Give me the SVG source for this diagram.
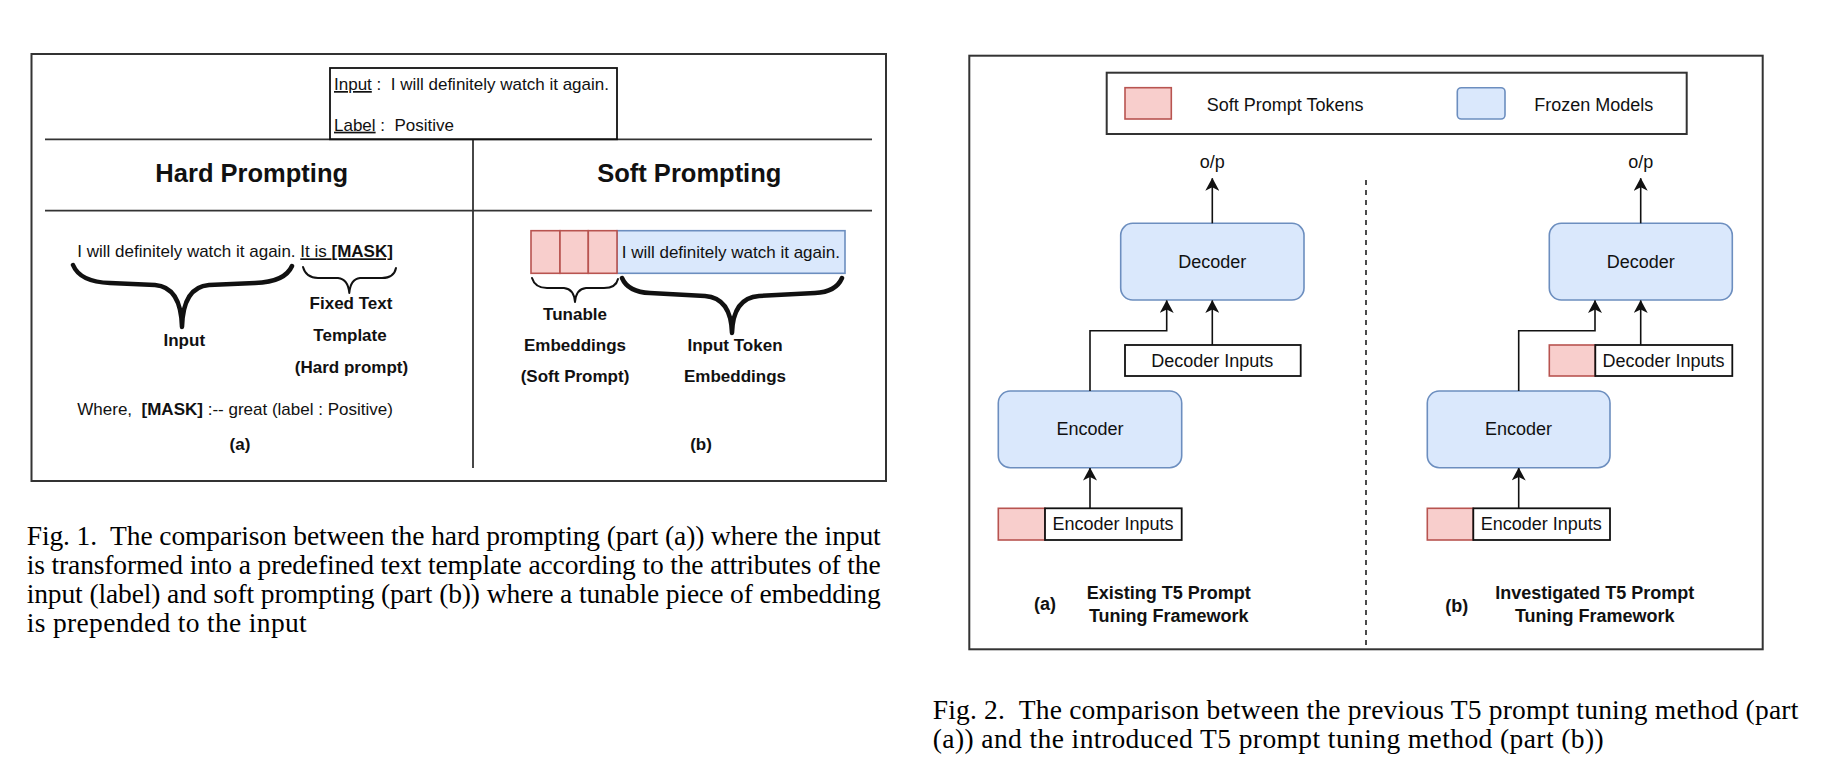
<svg xmlns="http://www.w3.org/2000/svg" width="1826" height="778" viewBox="0 0 1826 778">
<style>
text{font-family:"Liberation Sans",Arial,sans-serif;fill:#111;white-space:pre}
.b{font-weight:bold}
.f17{font-size:17px}
.f18{font-size:18px}
.h{font-size:25.5px;font-weight:bold}
.cap{font-family:"Liberation Serif","Times New Roman",serif;font-size:27.5px;fill:#000}
.m{text-anchor:middle}
.frame{fill:none;stroke:#333;stroke-width:2}
.line{fill:none;stroke:#333;stroke-width:1.8}
.red{fill:#f8cecc;stroke:#b85450;stroke-width:1.6}
.blue{fill:#dae8fc;stroke:#6c8ebf;stroke-width:1.6}
.wbox{fill:#fff;stroke:#111;stroke-width:1.8}
.conn{fill:none;stroke:#111;stroke-width:1.6}
.brace{fill:none;stroke:#111;stroke-linecap:round;stroke-linejoin:round}
.u{text-decoration:underline}
</style>
<defs>
<marker id="arr" viewBox="0 0 13 14" refX="12.5" refY="7" markerWidth="13" markerHeight="14" markerUnits="userSpaceOnUse" orient="auto"><path d="M0,0 L13,7 L0,14 L3.5,7 z" fill="#111"/></marker>
</defs>
<rect width="1826" height="778" fill="#fff"/>

<!-- ===== Figure 1 ===== -->
<g id="fig1-frame">
<rect class="frame" x="31.5" y="54" width="854.5" height="427"/>
<line class="line" x1="45" y1="139.3" x2="872" y2="139.3"/>
<line class="line" x1="45" y1="210.7" x2="872" y2="210.7"/>
<line class="line" x1="473" y1="139.3" x2="473" y2="468"/>
</g>
<g id="fig1-example">
<rect fill="none" stroke="#111" stroke-width="1.8" x="330" y="68" width="287" height="71.3"/>
<text class="f17" x="334" y="90"><tspan class="u">Input</tspan> :  I will definitely watch it again.</text>
<text class="f17" x="334" y="130.7"><tspan class="u">Label</tspan> :  Positive</text>
</g>
<g id="fig1-headings">
<text class="h m" x="251.7" y="181.7">Hard Prompting</text>
<text class="h m" x="689.3" y="181.7">Soft Prompting</text>
</g>
<g id="fig1-hard">
<text class="f17" x="77.3" y="257.3">I will definitely watch it again. <tspan class="u">It is <tspan class="b">[MASK]</tspan></tspan></text>
<path class="brace" stroke-width="4.5" d="M73,265 Q80,282 110,283 L155,285 Q181,287 182,327 Q183,287 209,285 L255,283 Q285,282 292,266"/>
<path class="brace" stroke-width="2" d="M303,267 Q306,278 318,278 L338,278 Q348,279 349.3,293 Q350.5,279 360,278 L382,278 Q394,278 396,268"/>
<text class="f17 b m" x="184.3" y="346">Input</text>
<text class="f17 b m" x="351" y="309.3">Fixed Text</text>
<text class="f17 b m" x="350" y="340.7">Template</text>
<text class="f17 b m" x="351.5" y="372.7">(Hard prompt)</text>
<text class="f17" x="77.3" y="415">Where,  <tspan class="b">[MASK]</tspan> :-- great (label : Positive)</text>
<text class="f17 b m" x="240" y="450">(a)</text>
</g>
<g id="fig1-soft">
<rect class="blue" x="617" y="230.7" width="228" height="42.6"/>
<rect class="red" x="531" y="230.7" width="29" height="42.6"/>
<rect class="red" x="560" y="230.7" width="28.3" height="42.6"/>
<rect class="red" x="588.3" y="230.7" width="28.7" height="42.6"/>
<text class="f17" x="621.7" y="258.3">I will definitely watch it again.</text>
<path class="brace" stroke-width="2" d="M532,278 Q535,288 547,288 L564,288 Q574,289 575,302 Q576,289 586,288 L604,288 Q616,288 618,279"/>
<path class="brace" stroke-width="4.5" d="M622,278 Q628,292 650,293 L705,296 Q731,298 732,333 Q733,298 759,296 L815,293 Q836,292 842,278"/>
<text class="f17 b m" x="575" y="320">Tunable</text>
<text class="f17 b m" x="575" y="350.7">Embeddings</text>
<text class="f17 b m" x="575" y="381.7">(Soft Prompt)</text>
<text class="f17 b m" x="735" y="350.7">Input Token</text>
<text class="f17 b m" x="735" y="381.7">Embeddings</text>
<text class="f17 b m" x="701" y="450">(b)</text>
</g>
<g id="fig1-caption">
<text class="cap" x="26.7" y="545" textLength="854">Fig. 1.  The comparison between the hard prompting (part (a)) where the input</text>
<text class="cap" x="26.7" y="574" textLength="854">is transformed into a predefined text template according to the attributes of the</text>
<text class="cap" x="26.7" y="603" textLength="854">input (label) and soft prompting (part (b)) where a tunable piece of embedding</text>
<text class="cap" x="26.7" y="632" textLength="280">is prepended to the input</text>
</g>

<!-- ===== Figure 2 ===== -->
<g id="fig2-frame">
<rect class="frame" x="969.3" y="55.7" width="793.4" height="593.6"/>
<line x1="1366" y1="180" x2="1366" y2="649" stroke="#111" stroke-width="1.5" stroke-dasharray="5,5"/>
</g>
<g id="legend">
<rect class="frame" x="1106.7" y="72.7" width="580" height="61.3"/>
<rect class="red" x="1125" y="87.7" width="46.3" height="31.3"/>
<text class="f18" x="1206.7" y="110.7">Soft Prompt Tokens</text>
<rect class="blue" x="1457.3" y="87.7" width="47.7" height="31.3" rx="4"/>
<text class="f18" x="1534.3" y="110.7">Frozen Models</text>
</g>

<g id="a-output"><text class="f18 m" x="1212.3" y="168.3">o/p</text></g>
<g id="a-decoder">
<rect class="blue" x="1120.7" y="223.3" width="183.3" height="76.7" rx="12"/>
<text class="f18 m" x="1212.3" y="268.3">Decoder</text>
</g>
<g id="a-decoder-inputs">
<rect class="wbox" x="1125" y="345" width="175.7" height="31"/>
<text class="f18 m" x="1212.3" y="366.7">Decoder Inputs</text>
</g>
<g id="a-encoder">
<rect class="blue" x="998.3" y="391" width="183.4" height="76.7" rx="12"/>
<text class="f18 m" x="1090" y="435">Encoder</text>
</g>
<g id="a-encoder-inputs">
<rect class="red" x="998.3" y="508.3" width="46.7" height="31.7"/>
<rect class="wbox" x="1045" y="508.3" width="136.7" height="31.7"/>
<text class="f18 m" x="1113" y="530">Encoder Inputs</text>
</g>
<g id="a-label">
<text class="f18 b m" x="1045" y="610">(a)</text>
<text class="f18 b m" x="1168.8" y="599.3">Existing T5 Prompt</text>
<text class="f18 b m" x="1168.8" y="621.7">Tuning Framework</text>
</g>

<g id="b-output"><text class="f18 m" x="1640.7" y="168.3">o/p</text></g>
<g id="b-decoder">
<rect class="blue" x="1549.3" y="223.3" width="183" height="76.7" rx="12"/>
<text class="f18 m" x="1640.7" y="268.3">Decoder</text>
</g>
<g id="b-decoder-inputs">
<rect class="red" x="1549.3" y="345" width="46" height="31"/>
<rect class="wbox" x="1595.3" y="345" width="137" height="31"/>
<text class="f18 m" x="1663.5" y="366.7">Decoder Inputs</text>
</g>
<g id="b-encoder">
<rect class="blue" x="1427.3" y="391" width="182.7" height="76.7" rx="12"/>
<text class="f18 m" x="1518.5" y="435">Encoder</text>
</g>
<g id="b-encoder-inputs">
<rect class="red" x="1427.3" y="508.3" width="46" height="31.7"/>
<rect class="wbox" x="1473.3" y="508.3" width="136.7" height="31.7"/>
<text class="f18 m" x="1541.3" y="530">Encoder Inputs</text>
</g>
<g id="b-label">
<text class="f18 b m" x="1456.7" y="611.7">(b)</text>
<text class="f18 b m" x="1594.8" y="599.3">Investigated T5 Prompt</text>
<text class="f18 b m" x="1594.8" y="621.7">Tuning Framework</text>
</g>

<g id="connectors" class="conn" marker-end="url(#arr)">
<path d="M1212.3,223.3 V178.3"/>
<path d="M1212.3,345 V300.5"/>
<path d="M1090,508.3 V468"/>
<path d="M1090,391 V330.7 H1166.7 V300.5"/>
<path d="M1640.7,223.3 V178.3"/>
<path d="M1640.7,345 V300.5"/>
<path d="M1518.7,508.3 V468"/>
<path d="M1518.7,391 V330.7 H1595 V300.5"/>
</g>

<g id="fig2-caption">
<text class="cap" x="932.7" y="718.5" textLength="865.6">Fig. 2.  The comparison between the previous T5 prompt tuning method (part</text>
<text class="cap" x="932.7" y="747.5" textLength="671">(a)) and the introduced T5 prompt tuning method (part (b))</text>
</g>
</svg>
